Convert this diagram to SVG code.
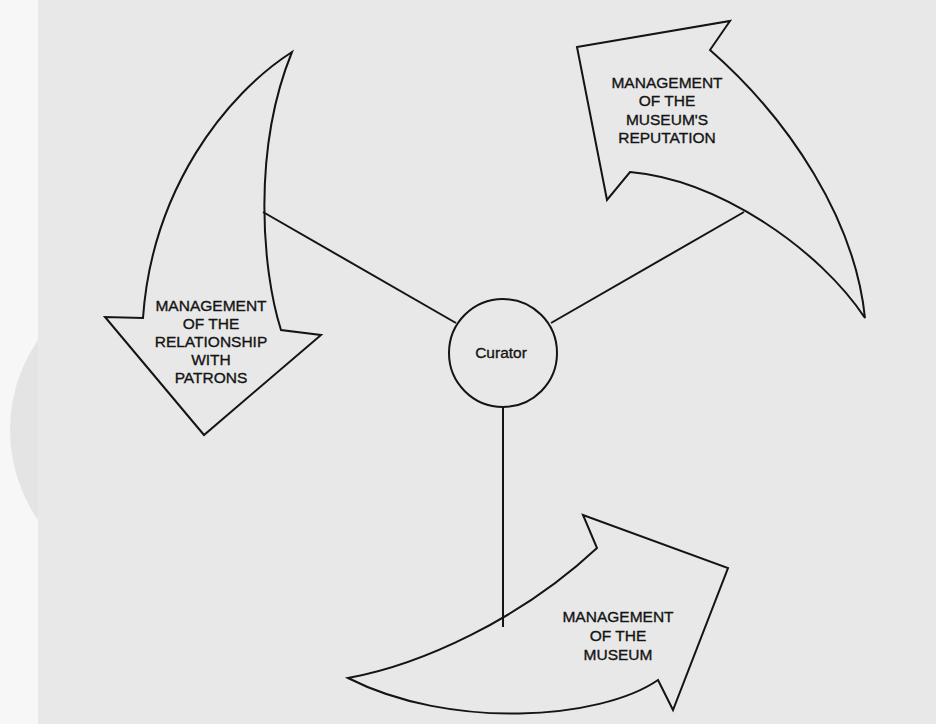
<svg xmlns="http://www.w3.org/2000/svg" width="936" height="724" viewBox="0 0 936 724">
  <style>
    .shape { fill: none; stroke: #141414; stroke-width: 2; stroke-linejoin: miter; }
    .conn { fill: none; stroke: #141414; stroke-width: 2; }
    .lbl { font-family: "Liberation Sans", Arial, sans-serif; font-size: 15.5px; fill: #141414; stroke: #141414; stroke-width: 0.35; text-anchor: middle; }
  </style>
  <rect x="0" y="0" width="936" height="724" fill="#f7f7f7"/>
  <circle cx="169" cy="430" r="159" fill="#e4e4e4"/>
  <rect x="38" y="0" width="898" height="724" fill="#e8e8e8"/>

  <g id="connectors">
    <line class="conn" x1="263" y1="212" x2="456" y2="323"/>
    <line class="conn" x1="551" y1="323" x2="744" y2="212"/>
    <line class="conn" x1="503" y1="407" x2="503" y2="627"/>
  </g>

  <g id="patrons">
    <path class="shape" d="M 292,52 C 225,95 152,190 143,318 L 105,317 L 204,435 L 321,335 L 281,330 C 262,270 252,150 292,52 Z"/>
    <text class="lbl" x="211" y="311">MANAGEMENT</text>
    <text class="lbl" x="211" y="329">OF THE</text>
    <text class="lbl" x="211" y="347">RELATIONSHIP</text>
    <text class="lbl" x="211" y="365">WITH</text>
    <text class="lbl" x="211" y="383">PATRONS</text>
  </g>

  <g id="reputation">
    <path class="shape" d="M 577,47 L 730,21 L 710,50 C 790,120 855,220 865,318 C 820,250 720,180 630,172 L 607,200 Z"/>
    <text class="lbl" x="667" y="87.5">MANAGEMENT</text>
    <text class="lbl" x="667" y="106">OF THE</text>
    <text class="lbl" x="667" y="124.5">MUSEUM'S</text>
    <text class="lbl" x="667" y="143">REPUTATION</text>
  </g>

  <g id="curator">
    <circle class="shape" cx="503" cy="353" r="54"/>
    <text class="lbl" x="501" y="358">Curator</text>
  </g>

  <g id="museum">
    <path class="shape" d="M 348,678 C 420,665 520,620 597,548 L 583,515 L 728,568 L 673,710 L 658,680 C 600,720 450,730 348,678 Z"/>
    <text class="lbl" x="618" y="622">MANAGEMENT</text>
    <text class="lbl" x="618" y="641">OF THE</text>
    <text class="lbl" x="618" y="660">MUSEUM</text>
  </g>
</svg>
